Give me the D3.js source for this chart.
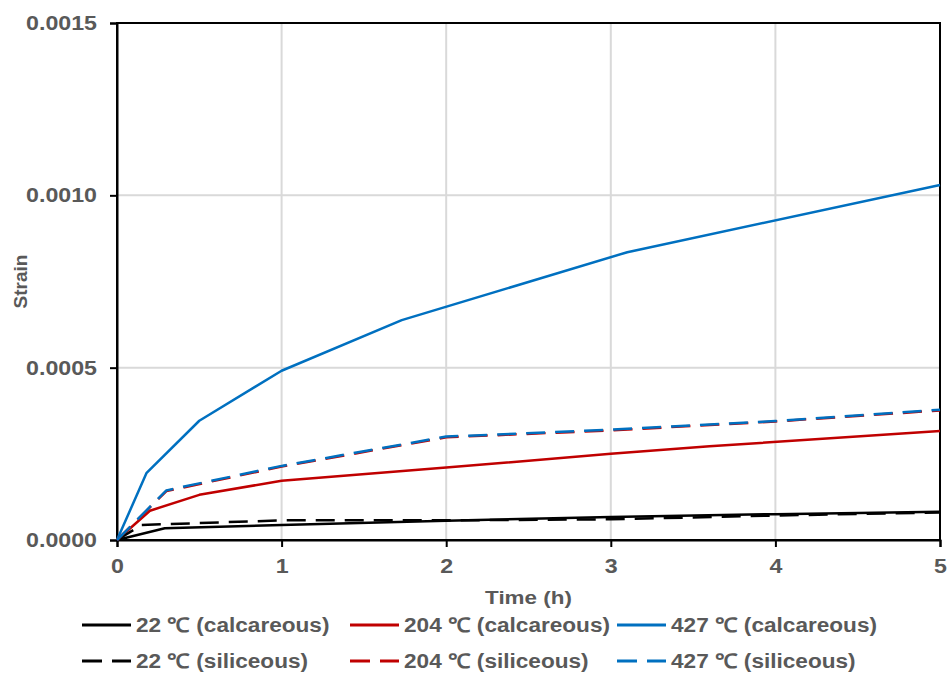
<!DOCTYPE html>
<html><head><meta charset="utf-8">
<script src="https://cdn.jsdelivr.net/npm/d3@7"></script>
<style>body{margin:0;background:#fff}text{font-family:"Liberation Sans",Arial,sans-serif;font-weight:bold;fill:#595959}</style>
</head><body><svg id="c" width="949" height="674"></svg>
<script>
const xTicks = [0,1,2,3,4,5];
const yTicks = [0,0.0005,0.0010,0.0015];
const yTickLabels = ["0.0000","0.0005","0.0010","0.0015"];
const seriesNames = ["22 ℃ (calcareous)","204 ℃ (calcareous)","427 ℃ (calcareous)","22 ℃ (siliceous)","204 ℃ (siliceous)","427 ℃ (siliceous)"];
const seriesColors = ["#000000","#C00000","#0070C0","#000000","#C00000","#0070C0"];
const seriesDashed = [false,false,false,true,true,true];
const calc22 = [[0,0],[0.29,0.000034],[1,0.0000435],[2,0.000056],[3,0.000067],[4,0.000075],[5,0.000082]];
const calc204 = [[0,0],[0.2,0.000085],[0.5,0.000131],[1,0.000172],[2,0.00021],[3,0.00025],[3.6,0.000272],[5,0.000316]];
const calc427 = [[0,0],[0.18,0.000195],[0.5,0.000346],[1,0.000491],[1.73,0.000638],[3.1,0.000835],[5,0.00103]];
const sil22 = [[0,0],[0.15,0.0000435],[1,0.000057],[2,0.000057],[3,0.00006],[4,0.000071],[5,0.00008]];
const sil204 = [[0,0],[0.3,0.000142],[1,0.000213],[2,0.000298],[3,0.000318],[4,0.000344],[5,0.000376]];
const sil427 = [[0,0],[0.3,0.000144],[1,0.000215],[2,0.0003],[3,0.00032],[4,0.000345],[5,0.000378]];
const allSeries = [calc22,calc204,calc427,sil22,sil204,sil427];

const L=117,R=940,T=23,B=540;
const svg=d3.select("#c");
const x=d3.scaleLinear().domain([0,5]).range([L,R]);
const y=d3.scaleLinear().domain([0,0.0015]).range([B,T]);
function stretch(sel,k){sel.each(function(){const l=this.getComputedTextLength();d3.select(this).attr("textLength",l*k).attr("lengthAdjust","spacingAndGlyphs");});}

// grid
svg.append("g").selectAll("line").data(xTicks.slice(1,-1)).join("line")
 .attr("x1",d=>x(d)).attr("x2",d=>x(d)).attr("y1",T).attr("y2",B)
 .attr("stroke","#D9D9D9").attr("stroke-width",2);
svg.append("g").selectAll("line").data(yTicks.slice(1,-1)).join("line")
 .attr("x1",L).attr("x2",R).attr("y1",d=>y(d)).attr("y2",d=>y(d))
 .attr("stroke","#D9D9D9").attr("stroke-width",2);

// frame
svg.append("rect").attr("x",L).attr("y",T).attr("width",R-L).attr("height",B-T)
 .attr("fill","none").attr("stroke","#000").attr("stroke-width",2);

// axes
const xa=svg.append("g").attr("transform",`translate(0,${B})`)
 .call(d3.axisBottom(x).tickValues(xTicks).tickSize(7).tickPadding(12).tickFormat(d3.format("d")));
const ya=svg.append("g").attr("transform",`translate(${L},0)`)
 .call(d3.axisLeft(y).tickValues(yTicks).tickSize(7).tickPadding(13).tickFormat((d,i)=>yTickLabels[i]));
[xa,ya].forEach(a=>{a.select(".domain").attr("stroke","#000").attr("stroke-width",2);
 a.selectAll(".tick line").attr("stroke","#000").attr("stroke-width",2);
 a.selectAll(".tick text").attr("font-size",20).attr("font-family","Liberation Sans, Arial, sans-serif").attr("font-weight","bold").attr("fill","#595959");
 stretch(a.selectAll(".tick text"),1.16);});

// lines
const line=d3.line().x(d=>x(d[0])).y(d=>y(d[1]));
allSeries.forEach((s,i)=>{
 svg.append("path").datum(s).attr("d",line).attr("fill","none")
  .attr("stroke",seriesColors[i]).attr("stroke-width",2.5)
  .attr("stroke-linejoin","round")
  .attr("stroke-dasharray",seriesDashed[i]?"19,10":null);
});

// axis titles
stretch(svg.append("text").attr("x",(L+R)/2).attr("y",604).attr("text-anchor","middle").attr("font-size",19).text("Time (h)"),1.18);
svg.append("text").attr("transform",`translate(27,${(T+B)/2}) rotate(-90)`).attr("text-anchor","middle").attr("font-size",19).text("Strain");

// legend
const lgX=[82,350,617], lgY=[625,661];
seriesNames.forEach((n,i)=>{
 const col=i%3,row=Math.floor(i/3);
 const g=svg.append("g").attr("transform",`translate(${lgX[col]},${lgY[row]})`);
 g.append("line").attr("x1",0).attr("x2",49).attr("y1",0).attr("y2",0)
  .attr("stroke",seriesColors[i]).attr("stroke-width",3)
  .attr("stroke-dasharray",seriesDashed[i]?"20,10":null);
 stretch(g.append("text").attr("x",54).attr("y",7).attr("font-size",20).text(n),1.13);
});
</script></body></html>
